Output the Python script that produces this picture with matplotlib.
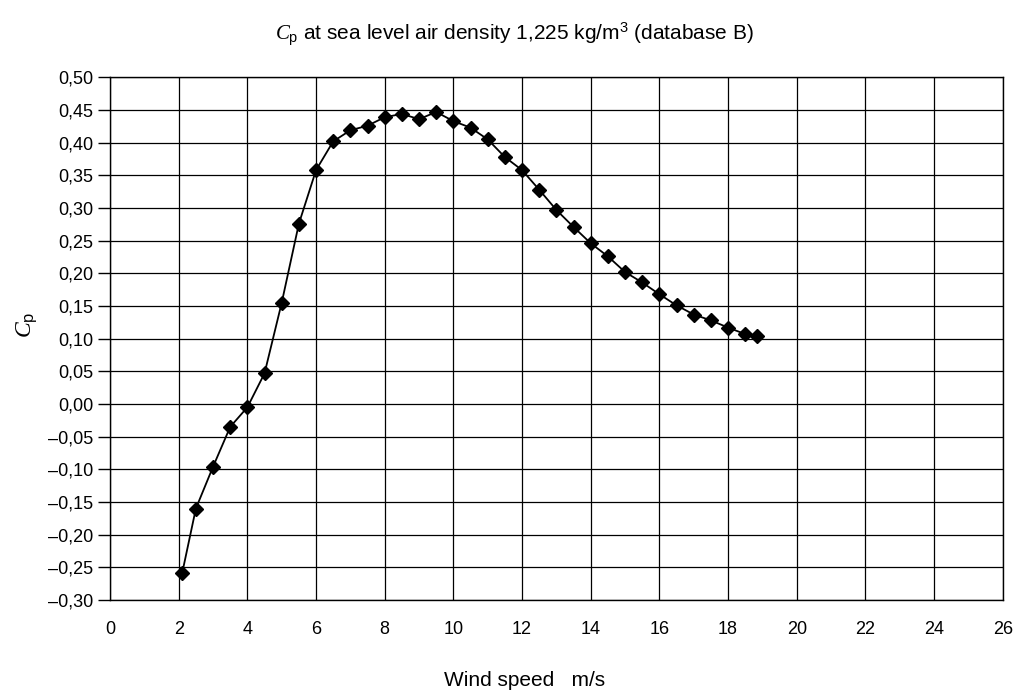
import matplotlib
matplotlib.use("Agg")
import matplotlib.pyplot as plt
from matplotlib.ticker import FuncFormatter

plt.rcParams["font.family"] = ["Liberation Sans", "DejaVu Sans"]
plt.rcParams["mathtext.fontset"] = "custom"
plt.rcParams["mathtext.it"] = "Liberation Serif:italic"
plt.rcParams["mathtext.rm"] = "Liberation Sans"

# Cp curve, database B
wind_speed = [2.1, 2.5, 3.0, 3.5, 4.0, 4.5, 5.0, 5.5, 6.0, 6.5, 7.0, 7.5, 8.0, 8.5,
              9.0, 9.5, 10.0, 10.5, 11.0, 11.5, 12.0, 12.5, 13.0, 13.5, 14.0, 14.5,
              15.0, 15.5, 16.0, 16.5, 17.0, 17.5, 18.0, 18.5, 18.85]
cp = [-0.259, -0.160, -0.096, -0.035, -0.005, 0.047, 0.155, 0.276, 0.358, 0.402,
      0.419, 0.426, 0.439, 0.444, 0.436, 0.447, 0.433, 0.423, 0.405, 0.378, 0.358,
      0.328, 0.297, 0.271, 0.246, 0.226, 0.202, 0.186, 0.168, 0.151, 0.137, 0.128,
      0.117, 0.107, 0.104]

x_ticks = list(range(0, 27, 2))
y_ticks = [round(-0.30 + 0.05 * i, 2) for i in range(17)]

fig = plt.figure(figsize=(10.19, 6.95), dpi=100)
ax = fig.add_axes([0.108, 0.1367, 0.876, 0.752])

ax.plot(wind_speed, cp, color="black", lw=1.3, marker="D", ms=7.5,
        markerfacecolor="black", markeredgecolor="black", zorder=3)

ax.set_xlim(0, 26)
ax.set_ylim(-0.30, 0.50)
ax.set_xticks(x_ticks)
ax.set_yticks(y_ticks)
ax.yaxis.set_major_formatter(FuncFormatter(
    lambda v, p: f"{v:.2f}".replace(".", ",").replace("-", "\u2013")
    if abs(v) > 1e-9 else "0,00"))
ax.grid(True, color="black", lw=0.9)
ax.set_axisbelow(True)
for s in ax.spines.values():
    s.set_color("black")
    s.set_linewidth(1.0)
ax.tick_params(axis="y", length=9, width=1.0, labelsize=13, pad=3)
ax.tick_params(axis="x", length=0, labelsize=13, pad=15)

# title and axis labels sit centred on the figure, not the axes
fig.text(0.505, 1 - 34 / 695,
         r"$\mathit{C}_{\mathrm{p}}$ at sea level air density 1,225 kg/m$^{3}$ (database B)",
         fontsize=15, ha="center", va="center")
fig.text(0.515, 1 - 680 / 695, "Wind speed   m/s", fontsize=15, ha="center", va="center")
fig.text(27 / 1019, 1 - 325 / 695, r"$\mathit{C}_{\mathrm{p}}$", fontsize=17,
         rotation=90, ha="center", va="center")

fig.savefig("out.png", dpi=100)
